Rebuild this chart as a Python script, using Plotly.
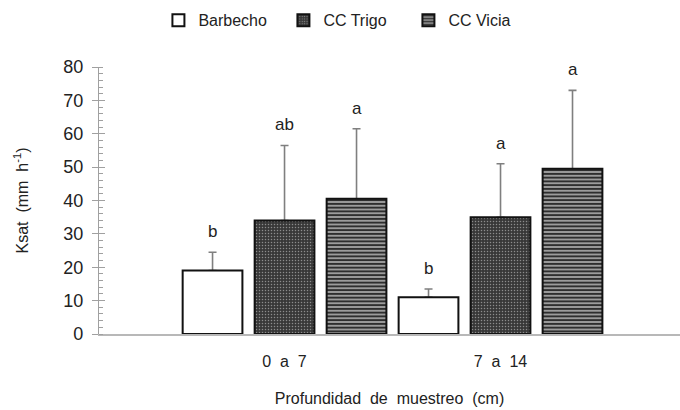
import plotly.graph_objects as go

# Ksat means and upper error limits by sampling depth
depths = ["0\u00a0 a\u00a0 7", "7\u00a0 a\u00a0 14"]
series = ["Barbecho", "CC Trigo", "CC Vicia"]
ksat = {
    "Barbecho": [19.0, 11.0],
    "CC Trigo": [34.0, 35.0],
    "CC Vicia": [40.5, 49.5],
}
upper = {
    "Barbecho": [24.5, 13.5],
    "CC Trigo": [56.5, 51.0],
    "CC Vicia": [61.5, 73.0],
}
letters = {
    "Barbecho": ["b", "b"],
    "CC Trigo": ["ab", "a"],
    "CC Vicia": ["a", "a"],
}

FONT = "Liberation Sans, Arial"
INK = "#222222"

styles = {
    "Barbecho": dict(color="white", pattern=dict(shape="")),
    "CC Trigo": dict(color="#383838",
                     pattern=dict(shape=".", fgcolor="#8c8c8c", bgcolor="#383838",
                                  fgopacity=1, size=3, solidity=0.2, fillmode="replace")),
    "CC Vicia": dict(color="#d0d0d0",
                     pattern=dict(shape="-", fgcolor="#2e2e2e", bgcolor="#d0d0d0",
                                  fgopacity=1, size=3.75, solidity=0.66, fillmode="replace")),
}

fig = go.Figure()

# error whiskers first, so each bar drawn afterwards hides the base of its whisker
for s in series:
    fig.add_trace(go.Bar(
        x=depths, y=ksat[s], offsetgroup=s, showlegend=False, hoverinfo="skip",
        marker=dict(color="rgba(0,0,0,0)", line=dict(width=0)),
        error_y=dict(type="data", symmetric=False,
                     array=[u - v for u, v in zip(upper[s], ksat[s])],
                     arrayminus=[0, 0],
                     color="#7f7f7f", thickness=1.6, width=4),
    ))

for s in series:
    st = styles[s]
    fig.add_trace(go.Bar(
        name=s, x=depths, y=ksat[s], offsetgroup=s,
        marker=dict(color=st["color"], pattern=st["pattern"],
                    line=dict(color="#111111", width=2)),
    ))

# significance letters above each error bar
offsets = {"Barbecho": -1, "CC Trigo": 0, "CC Vicia": 1}
slot = 1.0 / 3
for s in series:
    for i, d in enumerate(depths):
        fig.add_annotation(
            x=i + offsets[s] * slot, y=upper[s][i], xref="x", yref="y",
            text=letters[s][i], showarrow=False, yanchor="bottom", yshift=9,
            font=dict(family=FONT, size=17, color=INK),
        )

fig.update_layout(
    width=680, height=410,
    margin=dict(l=99, r=0, t=67, b=76),
    paper_bgcolor="white", plot_bgcolor="white",
    barmode="group", bargap=0.0, bargroupgap=0.17,
    showlegend=True,
    legend=dict(orientation="h", x=0.425, xanchor="center", y=1.175, yanchor="middle",
                font=dict(family=FONT, size=16, color=INK),
                itemwidth=30, entrywidth=80, traceorder="normal"),
    xaxis=dict(
        type="category", range=[-0.859, 1.831],
        showline=True, linecolor="#b8b8b8", linewidth=2,
        ticks="", showgrid=False, zeroline=False,
        ticklabelstandoff=12,
        tickfont=dict(family=FONT, size=16, color=INK),
        title=dict(text="Profundidad\u00a0 de\u00a0 muestreo\u00a0 (cm)", standoff=24,
                   font=dict(family=FONT, size=16, color=INK)),
    ),
    yaxis=dict(
        range=[0, 80], dtick=10, tick0=0,
        showline=True, linecolor="#a0a0a0", linewidth=1.2,
        ticks="outside", ticklen=6, tickcolor="#a0a0a0", tickwidth=1.2,
        minor=dict(dtick=2, ticks="inside", ticklen=4, tickcolor="#a0a0a0", tickwidth=1),
        showgrid=False, zeroline=False,
        ticklabelstandoff=5,
        tickfont=dict(family=FONT, size=18, color=INK),
        title=dict(text="Ksat\u00a0 (mm\u00a0 h<sup>-1</sup>)", standoff=30,
                   font=dict(family=FONT, size=16, color=INK)),
    ),
    # mirror axis carrying the inner half of the major ticks
    yaxis2=dict(
        range=[0, 80], dtick=10, tick0=0, overlaying="y", side="left",
        ticks="inside", ticklen=6, tickcolor="#a0a0a0", tickwidth=1.2,
        showticklabels=False, showgrid=False, zeroline=False, showline=False,
    ),
)

fig.add_trace(go.Scatter(x=[None], y=[None], yaxis="y2", showlegend=False,
                         hoverinfo="skip"))

fig.write_html("out.html")
